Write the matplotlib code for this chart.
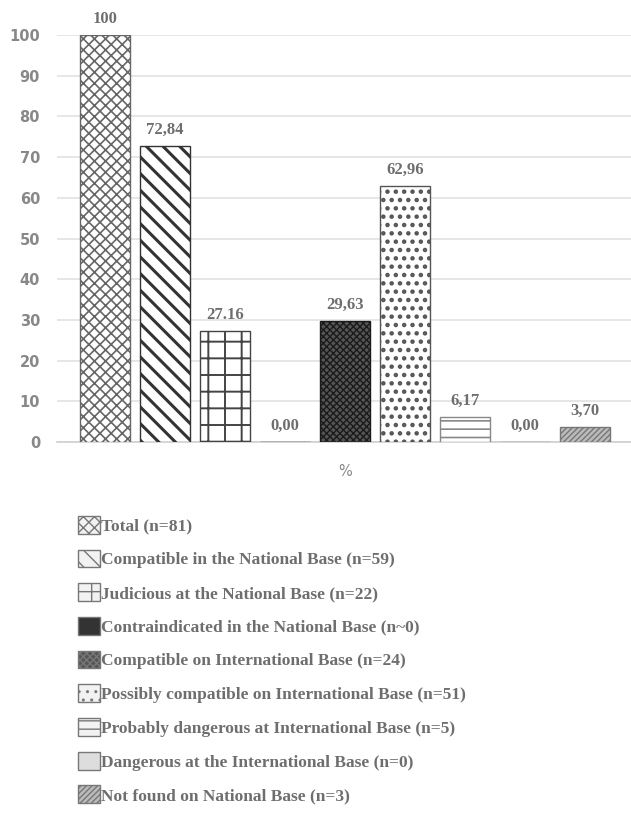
import matplotlib.pyplot as plt
from matplotlib.patches import Patch

categories = [
    "Total (n=81)",
    "Compatible in the National Base (n=59)",
    "Judicious at the National Base (n=22)",
    "Contraindicated in the National Base (n~0)",
    "Compatible on International Base (n=24)",
    "Possibly compatible on International Base (n=51)",
    "Probably dangerous at International Base (n=5)",
    "Dangerous at the International Base (n=0)",
    "Not found on National Base (n=3)",
]
values = [100, 72.84, 27.16, 0, 29.63, 62.96, 6.17, 0, 3.70]
value_labels = ["100", "72,84", "27.16", "0,00", "29,63", "62,96", "6,17", "0,00", "3,70"]

hatches = ["xxx", "\\\\", "+", None, "xxxxx", "..", "--", None, "//////"]
faces = ["white", "white", "white", "#333333", "#555555", "white", "white", "#dddddd", "#bbbbbb"]
edges = ["#666666", "#333333", "#444444", "#333333", "#1a1a1a", "#555555", "#888888", "#999999", "#777777"]
hatch_lw = [1.2, 2.2, 1.4, 1.0, 1.0, 2.0, 1.2, 1.0, 1.0]

text_gray = "#6e6e6e"

fig = plt.figure(figsize=(6.31, 8.22), dpi=100)
ax = fig.add_axes([0.09, 0.4623, 0.91, 0.4951])

x = list(range(len(values)))
bars = ax.bar(x, values, width=0.83, color=faces, edgecolor=edges, linewidth=1.0, zorder=3)
for b, h, lw in zip(bars, hatches, hatch_lw):
    if h:
        b.set_hatch(h)
    try:
        b.set_hatch_linewidth(lw)
    except AttributeError:
        pass

for xi, v, lab in zip(x, values, value_labels):
    ax.text(xi, v + 2.0, lab, ha="center", va="bottom", fontsize=12,
            family="Liberation Serif", fontweight="bold", color=text_gray)

ax.set_xlim(-0.8, 8.77)
ax.set_ylim(0, 100)
ax.set_yticks(range(0, 101, 10))
ax.set_xticks([4], ["%"])
ax.tick_params(axis="both", length=0, labelsize=10.5, labelcolor="#888888", pad=12)
ax.tick_params(axis="x", pad=16)
for t in ax.get_yticklabels():
    t.set_fontweight("bold")
ax.grid(axis="y", color="#e2e2e2", linewidth=1.2, zorder=0)
for s in ["top", "right", "left"]:
    ax.spines[s].set_visible(False)
ax.spines["bottom"].set_color("#cfcfcf")
ax.spines["bottom"].set_linewidth(1.2)

handles = []
for h, f, e in zip(hatches, faces, edges):
    handles.append(Patch(facecolor=f if f != "white" else "#f2f2f2", edgecolor="#777777", hatch=h))
fig.legend(handles, categories, loc="upper left", bbox_to_anchor=(0.113, 1 - 509 / 822),
           frameon=False, handlelength=1.25, handleheight=1.2, handletextpad=0.05,
           labelspacing=0.86, borderaxespad=0,
           prop={"family": "Liberation Serif", "weight": "bold", "size": 12.5})
for t in fig.legends[0].get_texts():
    t.set_color(text_gray)

fig.savefig("out.png", dpi=100, facecolor="white")
